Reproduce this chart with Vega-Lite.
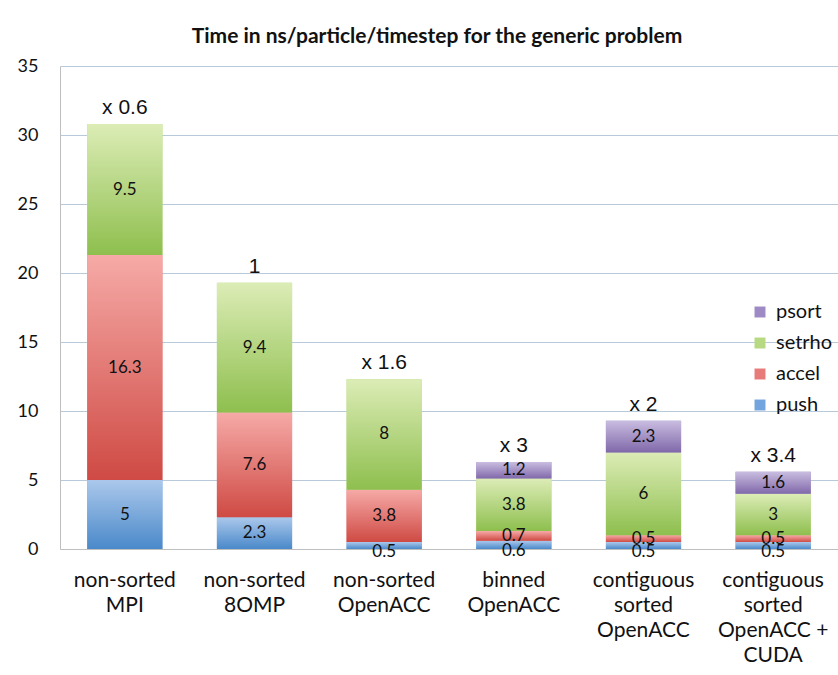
{
  "$schema": "https://vega.github.io/schema/vega-lite/v6.json",
  "autosize": "none",
  "width": 778,
  "height": 483,
  "padding": {"left": 60, "top": 66, "right": 0, "bottom": 126},
  "background": "white",
  "title": {
    "text": "Time in ns/particle/timestep for the generic problem",
    "font": "Lato",
    "fontSize": 21,
    "fontWeight": "bold",
    "color": "#111111",
    "anchor": "middle",
    "dx": -12,
    "offset": 10
  },
  "datasets": {
    "segments": [
      {"method": "non-sorted|MPI", "stage": "push", "ord": 1, "value": 5},
      {"method": "non-sorted|MPI", "stage": "accel", "ord": 2, "value": 16.3},
      {"method": "non-sorted|MPI", "stage": "setrho", "ord": 3, "value": 9.5},
      {"method": "non-sorted|8OMP", "stage": "push", "ord": 1, "value": 2.3},
      {"method": "non-sorted|8OMP", "stage": "accel", "ord": 2, "value": 7.6},
      {"method": "non-sorted|8OMP", "stage": "setrho", "ord": 3, "value": 9.4},
      {"method": "non-sorted|OpenACC", "stage": "push", "ord": 1, "value": 0.5},
      {"method": "non-sorted|OpenACC", "stage": "accel", "ord": 2, "value": 3.8},
      {"method": "non-sorted|OpenACC", "stage": "setrho", "ord": 3, "value": 8},
      {"method": "binned|OpenACC", "stage": "push", "ord": 1, "value": 0.6},
      {"method": "binned|OpenACC", "stage": "accel", "ord": 2, "value": 0.7},
      {"method": "binned|OpenACC", "stage": "setrho", "ord": 3, "value": 3.8},
      {"method": "binned|OpenACC", "stage": "psort", "ord": 4, "value": 1.2},
      {"method": "contiguous|sorted|OpenACC", "stage": "push", "ord": 1, "value": 0.5},
      {"method": "contiguous|sorted|OpenACC", "stage": "accel", "ord": 2, "value": 0.5},
      {"method": "contiguous|sorted|OpenACC", "stage": "setrho", "ord": 3, "value": 6},
      {"method": "contiguous|sorted|OpenACC", "stage": "psort", "ord": 4, "value": 2.3},
      {"method": "contiguous|sorted|OpenACC +|CUDA", "stage": "push", "ord": 1, "value": 0.5},
      {"method": "contiguous|sorted|OpenACC +|CUDA", "stage": "accel", "ord": 2, "value": 0.5},
      {"method": "contiguous|sorted|OpenACC +|CUDA", "stage": "setrho", "ord": 3, "value": 3},
      {"method": "contiguous|sorted|OpenACC +|CUDA", "stage": "psort", "ord": 4, "value": 1.6}
    ],
    "notes": [
      {"method": "non-sorted|MPI", "note": "x 0.6", "total": 30.8},
      {"method": "non-sorted|8OMP", "note": "1", "total": 19.3},
      {"method": "non-sorted|OpenACC", "note": "x 1.6", "total": 12.3},
      {"method": "binned|OpenACC", "note": "x 3", "total": 6.3},
      {"method": "contiguous|sorted|OpenACC", "note": "x 2", "total": 9.3},
      {"method": "contiguous|sorted|OpenACC +|CUDA", "note": "x 3.4", "total": 5.6}
    ]
  },
  "encoding": {
    "x": {
      "field": "method",
      "type": "nominal",
      "sort": null,
      "scale": {"paddingInner": 0.42, "paddingOuter": 0.21},
      "axis": {
        "title": null,
        "labelAngle": 0,
        "labelExpr": "split(datum.label, '|')",
        "labelFont": "Lato",
        "labelFontSize": 21,
        "labelLineHeight": 25,
        "labelColor": "#111111",
        "labelPadding": 20,
        "labelBaseline": "top",
        "ticks": false,
        "domainColor": "#bfbfbf",
        "domainWidth": 1,
        "labelLimit": 200
      }
    }
  },
  "layer": [
    {
      "data": {"name": "segments"},
      "transform": [
        {"stack": "value", "groupby": ["method"], "sort": [{"field": "ord", "order": "ascending"}], "as": ["y0", "y1"]}
      ],
      "mark": {"type": "bar"},
      "encoding": {
        "y": {
          "field": "y0",
          "type": "quantitative",
          "scale": {"domain": [0, 35]},
          "axis": {
            "title": null,
            "values": [0, 5, 10, 15, 20, 25, 30, 35],
            "labelFont": "Lato",
            "labelFontSize": 18,
            "labelColor": "#111111",
            "labelPadding": 22,
            "ticks": false,
            "domainColor": "#bfbfbf",
            "gridColor": "#b8cad9",
            "gridWidth": 1
          }
        },
        "y2": {"field": "y1"},
        "fill": {
          "field": "stage",
          "type": "nominal",
          "scale": {
            "domain": ["psort", "setrho", "accel", "push"],
            "range": ["#9e8ac4", "#b6d982", "#e67b79", "#72a5de"]
          },
          "legend": {
            "title": null,
            "orient": "none",
            "legendX": 690,
            "legendY": 236,
            "padding": 0,
            "symbolType": "square",
            "symbolSize": 120,
            "symbolStrokeWidth": 0,
            "labelFont": "Lato",
            "labelFontSize": 20,
            "labelColor": "#111111",
            "rowPadding": 11,
            "labelOffset": 6
          }
        }
      }
    },
    {
      "data": {"name": "segments"},
      "transform": [
        {"stack": "value", "groupby": ["method"], "sort": [{"field": "ord", "order": "ascending"}], "as": ["y0", "y1"]},
        {"filter": "datum.stage === 'push'"}
      ],
      "mark": {"type": "bar", "fill": {"gradient": "linear", "x1": 0, "y1": 0, "x2": 0, "y2": 1, "stops": [{"offset": 0, "color": "#abc8eb"}, {"offset": 1, "color": "#4a89ca"}]}},
      "encoding": {"y": {"field": "y0", "type": "quantitative"}, "y2": {"field": "y1"}}
    },
    {
      "data": {"name": "segments"},
      "transform": [
        {"stack": "value", "groupby": ["method"], "sort": [{"field": "ord", "order": "ascending"}], "as": ["y0", "y1"]},
        {"filter": "datum.stage === 'accel'"}
      ],
      "mark": {"type": "bar", "fill": {"gradient": "linear", "x1": 0, "y1": 0, "x2": 0, "y2": 1, "stops": [{"offset": 0, "color": "#f6aaa7"}, {"offset": 1, "color": "#cf4a44"}]}},
      "encoding": {"y": {"field": "y0", "type": "quantitative"}, "y2": {"field": "y1"}}
    },
    {
      "data": {"name": "segments"},
      "transform": [
        {"stack": "value", "groupby": ["method"], "sort": [{"field": "ord", "order": "ascending"}], "as": ["y0", "y1"]},
        {"filter": "datum.stage === 'setrho'"}
      ],
      "mark": {"type": "bar", "fill": {"gradient": "linear", "x1": 0, "y1": 0, "x2": 0, "y2": 1, "stops": [{"offset": 0, "color": "#dcecb6"}, {"offset": 1, "color": "#8ebf4e"}]}},
      "encoding": {"y": {"field": "y0", "type": "quantitative"}, "y2": {"field": "y1"}}
    },
    {
      "data": {"name": "segments"},
      "transform": [
        {"stack": "value", "groupby": ["method"], "sort": [{"field": "ord", "order": "ascending"}], "as": ["y0", "y1"]},
        {"filter": "datum.stage === 'psort'"}
      ],
      "mark": {"type": "bar", "fill": {"gradient": "linear", "x1": 0, "y1": 0, "x2": 0, "y2": 1, "stops": [{"offset": 0, "color": "#c9bde0"}, {"offset": 1, "color": "#8068aa"}]}},
      "encoding": {"y": {"field": "y0", "type": "quantitative"}, "y2": {"field": "y1"}}
    },
    {
      "data": {"name": "segments"},
      "transform": [
        {"stack": "value", "groupby": ["method"], "sort": [{"field": "ord", "order": "ascending"}], "as": ["y0", "y1"]},
        {"calculate": "(datum.y0 + datum.y1) / 2", "as": "mid"},
        {"filter": "!(datum.stage === 'push' && datum.value < 1)"}
      ],
      "mark": {"type": "text", "font": "Lato", "fontSize": 17, "color": "#111111", "baseline": "middle"},
      "encoding": {
        "y": {"field": "mid", "type": "quantitative"},
        "text": {"field": "value", "type": "quantitative"}
      }
    },
    {
      "data": {"name": "segments"},
      "transform": [
        {"stack": "value", "groupby": ["method"], "sort": [{"field": "ord", "order": "ascending"}], "as": ["y0", "y1"]},
        {"calculate": "(datum.y0 + datum.y1) / 2", "as": "mid"},
        {"filter": "datum.stage === 'push' && datum.value < 1"}
      ],
      "mark": {"type": "text", "font": "Lato", "fontSize": 17, "color": "#111111", "baseline": "middle", "dy": 6},
      "encoding": {
        "y": {"field": "mid", "type": "quantitative"},
        "text": {"field": "value", "type": "quantitative"}
      }
    },
    {
      "data": {"name": "notes"},
      "mark": {"type": "text", "font": "Liberation Sans", "fontSize": 21, "color": "#111111", "baseline": "alphabetic", "dy": -10},
      "encoding": {
        "y": {"field": "total", "type": "quantitative"},
        "text": {"field": "note", "type": "nominal"}
      }
    }
  ],
  "config": {
    "view": {"stroke": null},
    "axis": {"gridColor": "#b8cad9"}
  }
}
